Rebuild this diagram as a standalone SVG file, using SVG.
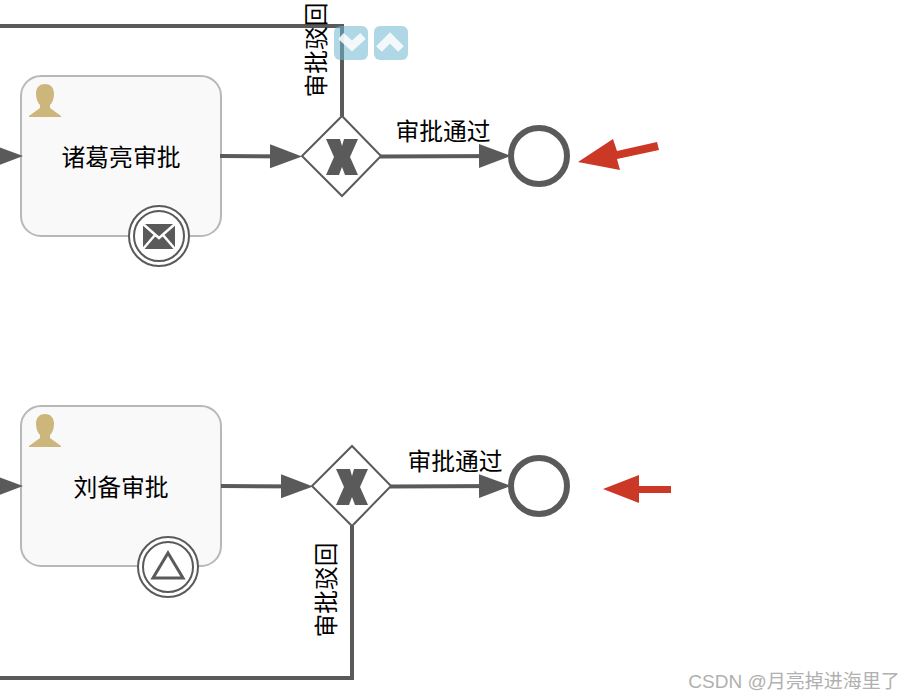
<svg xmlns="http://www.w3.org/2000/svg" width="912" height="700" viewBox="0 0 912 700">
<style>
text{font-family:"Noto Sans CJK SC","Liberation Sans",sans-serif;font-size:23.8px;fill:#000;text-anchor:middle}
.flow{fill:none;stroke:#5a5a5a;stroke-width:4}
.task{fill:#f9f9f9;stroke:#b8b8b8;stroke-width:2}
.gw{fill:#fff;stroke:#5a5a5a;stroke-width:2}
.x{fill:#5a5a5a}
.end{fill:#fff;stroke:#5a5a5a;stroke-width:6}
.ring{fill:#fff;stroke:#5a5a5a;stroke-width:2}
.user{fill:#cdb67c}
.red{fill:#cb3825}
.chev{fill:none;stroke:#fff;stroke-opacity:.85;stroke-width:8}
.btn{fill:#6fb7cf;fill-opacity:.55}
</style>
<defs>
<marker id="arrow" markerUnits="userSpaceOnUse" markerWidth="34" markerHeight="26" refX="26" refY="12" orient="auto"><path d="M0 0L32 12L0 24Z" fill="#5a5a5a"/></marker>
<path id="userIcon" class="user" d="M45 84c5 0 9 3 9 10 0 5-2 9-4 11v3l11 8v1H29v-1l11-8v-3c-2-2-4-6-4-11 0-7 4-10 9-10z"/>
</defs>
<g id="task-zhuge">
<rect class="task" x="21" y="76" width="200" height="160" rx="20"/>
<use href="#userIcon"/>
<text x="121" y="166">诸葛亮审批</text>
<circle class="ring" cx="159" cy="236" r="30"/>
<circle class="ring" cx="159" cy="236" r="25"/>
<rect x="143" y="224" width="32" height="25" fill="#5a5a5a"/>
<path d="M143 224L159 238L175 224M143 249L155 235M175 249L163 235" fill="none" stroke="#fff" stroke-width="2.500"/>
</g>
<g id="task-liubei">
<rect class="task" x="21" y="406" width="200" height="160" rx="20"/>
<use href="#userIcon" y="330"/>
<text x="121" y="496">刘备审批</text>
<circle class="ring" cx="168" cy="567" r="30"/>
<circle class="ring" cx="168" cy="567" r="25"/>
<path d="M168 553L183 578H153Z" fill="none" stroke="#5a5a5a" stroke-width="3"/>
</g>
<g id="connectors">
<path class="flow" d="M0 26H342V116"/>
<path class="flow" marker-end="url(#arrow)" d="M-20 156H17"/>
<path class="flow" marker-end="url(#arrow)" d="M220 156L296 156.400"/>
<path class="flow" marker-end="url(#arrow)" d="M380 156.500L505 156"/>
<path class="flow" marker-end="url(#arrow)" d="M-20 486H17"/>
<path class="flow" marker-end="url(#arrow)" d="M221 486L307 486.400"/>
<path class="flow" marker-end="url(#arrow)" d="M390 486.500L505 486"/>
<path class="flow" d="M352 526V678H0"/>
<text x="443" y="140">审批通过</text>
<text x="455" y="470">审批通过</text>
<text transform="translate(325 50) rotate(-90)">审批驳回</text>
<text transform="translate(335 590) rotate(-90)">审批驳回</text>
</g>
<g id="gateway-1">
<path class="gw" d="M342 116L381 156L342 196L302 156Z"/>
<path class="x" d="M326 139H340L342 146L344 139H358L350 157L358 175H345L342 167L339 175H326L334 157Z"/>
</g>
<g id="end-1"><circle class="end" cx="539" cy="156" r="28"/></g>
<g id="gateway-2">
<path class="gw" d="M352 446L391 486L352 526L312 486Z"/>
<path class="x" d="M336 469H350L352 476L354 469H368L360 487L368 505H355L352 497L349 505H336L344 487Z"/>
</g>
<g id="end-2"><circle class="end" cx="539" cy="486" r="28"/></g>
<g id="arrow-red-1">
<path class="red" d="M578 162L613 139L617 151L657 142L659 150L617 159L620 170Z"/>
</g>
<g id="arrow-red-2">
<path class="red" d="M603 489L639 475V486H671V493H639V503Z"/>
</g>
<g id="buttons">
<rect class="btn" x="334" y="26" width="34" height="34" rx="6"/>
<path class="chev" d="M341 36L352 46L363 36"/>
<rect class="btn" x="374" y="26" width="34" height="34" rx="6"/>
<path class="chev" d="M379 49L390 38L401 49"/>
</g>
<text x="794" y="688" style="font-size:19px;fill:#b0b0b0;font-family:'Liberation Sans','Noto Sans CJK SC',sans-serif">CSDN @月亮掉进海里了</text>
</svg>
